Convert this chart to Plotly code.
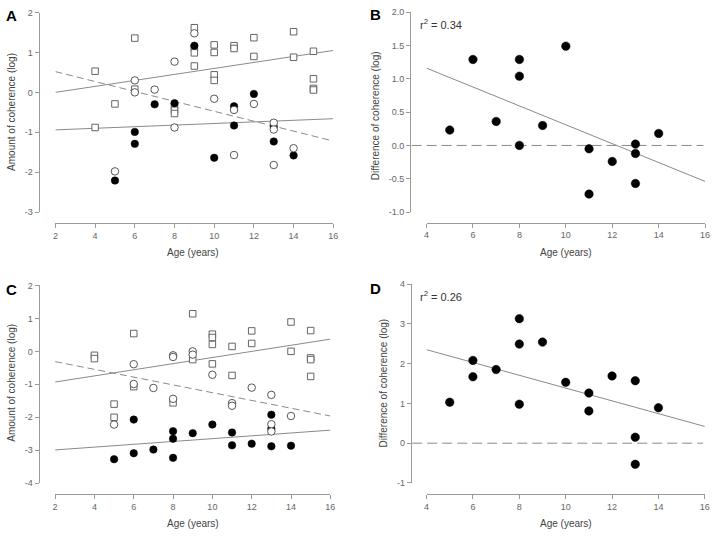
import plotly.graph_objects as go

W, H = 720, 539

# ---------------- data ----------------
# Panel A (amount of coherence)
A_sq_x = [4, 4, 5, 6, 6, 8, 8, 8, 9, 9, 9, 9, 10, 10, 10, 10, 11, 11, 12, 12, 14, 14, 15, 15, 15, 15]
A_sq_y = [0.53, -0.88, -0.29, 1.36, 0.08, -0.35, -0.45, -0.53, 1.62, 1.11, 0.99, 0.66, 1.19, 1.00, 0.44, 0.30,
          1.17, 1.10, 1.37, 0.90, 1.52, 0.88, 1.03, 0.34, 0.10, 0.06]
A_fc_x = [5, 6, 6, 7, 8, 9, 10, 11, 11, 12, 13, 13, 14]
A_fc_y = [-2.21, -0.99, -1.29, -0.30, -0.27, 1.17, -1.64, -0.35, -0.83, -0.04, -0.86, -1.23, -1.58]
A_oc_x = [5, 6, 6, 7, 8, 8, 9, 10, 11, 11, 12, 13, 13, 13, 14]
A_oc_y = [-1.98, 0.30, 0.00, 0.07, 0.77, -0.88, 1.48, -0.16, -0.44, -1.57, -0.29, -0.76, -0.93, -1.82, -1.40]
A_fit_x = [2, 16]
A_fit_sq = [0.00, 1.05]
A_fit_oc = [0.52, -1.22]
A_fit_fc = [-0.94, -0.66]

# Panel B (difference of coherence)
B_x = [5, 6, 7, 8, 8, 8, 9, 10, 11, 11, 12, 13, 13, 13, 14]
B_y = [0.23, 1.29, 0.36, 1.29, 1.04, 0.00, 0.30, 1.49, -0.05, -0.73, -0.24, 0.02, -0.12, -0.57, 0.18]
B_fit_x = [4, 16]
B_fit_y = [1.16, -0.54]
B_r2 = "0.34"

# Panel C
C_sq_x = [4, 4, 5, 5, 6, 6, 8, 9, 9, 10, 10, 10, 10, 11, 11, 12, 12, 14, 14, 15, 15, 15, 15]
C_sq_y = [-0.12, -0.22, -1.60, -2.00, 0.54, -1.07, -1.56, 1.14, -0.25, 0.52, 0.42, 0.21, -0.38, 0.15, -0.73,
          0.62, 0.24, 0.89, 0.00, 0.63, -0.20, -0.25, -0.76]
C_fc_x = [5, 6, 6, 7, 8, 8, 8, 9, 10, 11, 11, 12, 13, 13, 13, 14]
C_fc_y = [-3.27, -2.07, -3.09, -2.98, -2.42, -2.65, -3.23, -2.48, -2.22, -2.46, -2.85, -2.80, -1.92, -2.35, -2.88, -2.86]
C_oc_x = [5, 6, 6, 7, 8, 8, 8, 9, 9, 10, 11, 11, 12, 13, 13, 13, 14]
C_oc_y = [-2.22, -0.39, -0.99, -1.11, -0.12, -0.17, -1.44, 0.00, -0.10, -0.71, -1.57, -1.65, -1.10, -1.32, -2.21, -2.43, -1.96]
C_fit_x = [2, 16]
C_fit_sq = [-0.93, 0.37]
C_fit_oc = [-0.31, -1.96]
C_fit_fc = [-2.99, -2.39]

# Panel D
D_x = [5, 6, 6, 7, 8, 8, 8, 9, 10, 11, 11, 12, 13, 13, 13, 14]
D_y = [1.03, 2.08, 1.67, 1.85, 3.13, 2.49, 0.98, 2.54, 1.53, 1.26, 0.81, 1.69, 1.57, 0.15, -0.53, 0.89]
D_fit_x = [4, 16]
D_fit_y = [2.35, 0.42]
D_r2 = "0.26"

# ticks
AC_xticks = [2, 4, 6, 8, 10, 12, 14, 16]
BD_xticks = [4, 6, 8, 10, 12, 14, 16]
A_yticks = [-3, -2, -1, 0, 1, 2]
B_yticks = [-1.0, -0.5, 0.0, 0.5, 1.0, 1.5, 2.0]
B_yticklabels = ["-1.0", "-0.5", "0.0", "0.5", "1.0", "1.5", "2.0"]
C_yticks = [-4, -3, -2, -1, 0, 1, 2]
D_yticks = [-1, 0, 1, 2, 3, 4]

XTITLE = "Age (years)"
YTITLE_AC = "Amount of coherence (log)"
YTITLE_BD = "Difference of coherence (log)"

# ---------------- styling ----------------
FONT = "Liberation Sans, Arial, sans-serif"
AX = "#9a9a9a"
LINEC = "#8a8a8a"
OPEN_EDGE = "#444444"


def px(v):
    return v / W


def py(v):
    return 1 - v / H


fig = go.Figure()


def group_traces(xa, ya, sqx, sqy, fcx, fcy, ocx, ocy, fitx, fsq, foc, ffc):
    fig.add_trace(go.Scatter(x=fitx, y=fsq, mode="lines", line=dict(color=LINEC, width=1),
                             xaxis=xa, yaxis=ya, showlegend=False))
    fig.add_trace(go.Scatter(x=fitx, y=foc, mode="lines", line=dict(color=LINEC, width=1, dash="7px,4px"),
                             xaxis=xa, yaxis=ya, showlegend=False))
    fig.add_trace(go.Scatter(x=fitx, y=ffc, mode="lines", line=dict(color=LINEC, width=1),
                             xaxis=xa, yaxis=ya, showlegend=False))
    fig.add_trace(go.Scatter(x=sqx, y=sqy, mode="markers",
                             marker=dict(symbol="square", size=6.5, color="white",
                                         line=dict(color="#555555", width=0.9)),
                             xaxis=xa, yaxis=ya, showlegend=False))
    fig.add_trace(go.Scatter(x=fcx, y=fcy, mode="markers",
                             marker=dict(symbol="circle", size=7.5, color="black",
                                         line=dict(color="black", width=0.5)),
                             xaxis=xa, yaxis=ya, showlegend=False))
    fig.add_trace(go.Scatter(x=ocx, y=ocy, mode="markers",
                             marker=dict(symbol="circle", size=7.5, color="white",
                                         line=dict(color=OPEN_EDGE, width=0.9)),
                             xaxis=xa, yaxis=ya, showlegend=False))


def diff_traces(xa, ya, x, y, fitx, fity):
    fig.add_trace(go.Scatter(x=fitx, y=fity, mode="lines", line=dict(color=LINEC, width=1),
                             xaxis=xa, yaxis=ya, showlegend=False))
    fig.add_trace(go.Scatter(x=x, y=y, mode="markers",
                             marker=dict(symbol="circle", size=8.5, color="black",
                                         line=dict(color="black", width=0.5)),
                             xaxis=xa, yaxis=ya, showlegend=False))


group_traces("x", "y", A_sq_x, A_sq_y, A_fc_x, A_fc_y, A_oc_x, A_oc_y, A_fit_x, A_fit_sq, A_fit_oc, A_fit_fc)
diff_traces("x2", "y2", B_x, B_y, B_fit_x, B_fit_y)
group_traces("x3", "y3", C_sq_x, C_sq_y, C_fc_x, C_fc_y, C_oc_x, C_oc_y, C_fit_x, C_fit_sq, C_fit_oc, C_fit_fc)
diff_traces("x4", "y4", D_x, D_y, D_fit_x, D_fit_y)


def xaxis(dom_px, rng, ticks, pos_px):
    return dict(domain=[px(dom_px[0]), px(dom_px[1])], range=rng, tickvals=ticks,
                ticktext=[str(t) for t in ticks], anchor="free", position=py(pos_px),
                showline=True, linecolor=AX, linewidth=1, ticks="outside", ticklen=4,
                tickcolor=AX, tickwidth=1, tickfont=dict(size=9, color="#666666", family=FONT),
                ticklabeloverflow="allow",
                showgrid=False, zeroline=False, fixedrange=True)


def yaxis(dom_px, rng, ticks, labels, pos_px):
    return dict(domain=[py(dom_px[1]), py(dom_px[0])], range=rng, tickvals=ticks,
                ticktext=labels, anchor="free", position=px(pos_px),
                showline=True, linecolor=AX, linewidth=1, ticks="outside", ticklen=4,
                tickcolor=AX, tickwidth=1, tickfont=dict(size=9, color="#666666", family=FONT),
                ticklabeloverflow="allow",
                showgrid=False, zeroline=False, fixedrange=True)


layout = dict(
    width=W, height=H, margin=dict(l=0, r=0, t=0, b=0),
    paper_bgcolor="white", plot_bgcolor="white",
    font=dict(family=FONT, color="#333333"),
    xaxis=xaxis((53, 334), [2, 16], AC_xticks, 222),
    yaxis=yaxis((7.7, 211), [-3, 2], A_yticks, [str(t) for t in A_yticks], 36),
    xaxis2=xaxis((428.3, 710), [4, 16], BD_xticks, 221.7),
    yaxis2=yaxis((7.3, 211), [-1, 2], B_yticks, B_yticklabels, 411.7),
    xaxis3=xaxis((52.7, 331), [2, 16], AC_xticks, 498.7),
    yaxis3=yaxis((285.7, 487.3), [-4, 2], C_yticks, [str(t) for t in C_yticks], 36),
    xaxis4=xaxis((428.3, 709.7), [4, 16], BD_xticks, 498.7),
    yaxis4=yaxis((284.3, 487), [-1, 4], D_yticks, [str(t) for t in D_yticks], 412.3),
)
fig.update_layout(**layout)

# zero reference lines (dashed) in B and D, starting at the y-axis
for xa, ya, dom, ypos in (("x2", "y2", (428.3, 710), 411.7), ("x4", "y4", (428.3, 709.7), 412.3)):
    x0 = (ypos + 1.5 - dom[0]) / (dom[1] - dom[0])
    fig.add_shape(type="line", xref=xa + " domain", yref=ya, x0=x0, x1=1 - 0.006, y0=0, y1=0,
                  line=dict(color=LINEC, width=1, dash="10px,5px"), layer="below")

ann = []
# x titles
for xc, yc in ((192, 252), (569, 252), (192, 528), (569, 528)):
    ann.append(dict(text=XTITLE, x=px(xc), y=py(yc), xref="paper", yref="paper", showarrow=False,
                    xanchor="center", yanchor="middle", font=dict(size=10, color="#444444", family=FONT)))
# y titles
for txt, xc, yc in ((YTITLE_AC, 9, 109), (YTITLE_BD, 377.5, 113), (YTITLE_AC, 9, 385), (YTITLE_BD, 385, 385)):
    ann.append(dict(text=txt, x=px(xc), y=py(yc), xref="paper", yref="paper", showarrow=False,
                    textangle=-90, xanchor="center", yanchor="middle",
                    font=dict(size=10, color="#444444", family=FONT)))
# panel letters
for lab, xc, yc in (("A", 9, 11), ("B", 377, 10), ("C", 9, 290), ("D", 377, 289)):
    ann.append(dict(text="<b>%s</b>" % lab, x=px(xc), y=py(yc), xref="paper", yref="paper",
                    showarrow=False, xanchor="center", yanchor="middle",
                    font=dict(size=15, color="black", family=FONT)))
# r^2
for r2, yc in ((B_r2, 19), (D_r2, 296)):
    ann.append(dict(text="r<sup>2</sup> = " + r2, x=px(420), y=py(yc), xref="paper", yref="paper",
                    showarrow=False, xanchor="left", yanchor="middle",
                    font=dict(size=11, color="#333333", family=FONT)))
fig.update_layout(annotations=ann)

fig.write_html("out.html", config={"displayModeBar": False},
               post_script="document.body.style.margin='0';document.body.style.padding='0';")
